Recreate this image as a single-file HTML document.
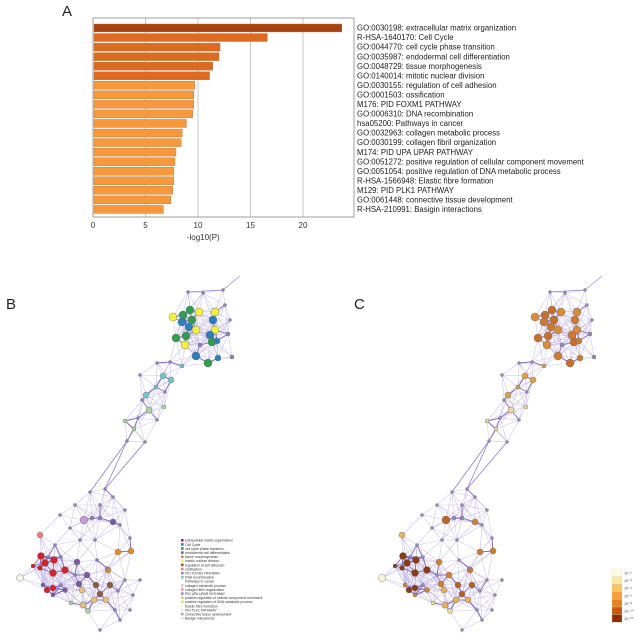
<!DOCTYPE html>
<html><head><meta charset="utf-8"><style>
body{margin:0;background:#fff;width:638px;height:636px;overflow:hidden;font-family:"Liberation Sans",sans-serif}
svg{display:block}
</style></head><body>
<svg id="fig" width="638" height="636" viewBox="0 0 638 636">
<text x="62" y="16" font-size="15" fill="#222">A</text>
<text x="6" y="309" font-size="15" fill="#222">B</text>
<text x="354" y="309" font-size="15" fill="#222">C</text>
<g id="barchart"></g>
<g id="netB"></g>
<g id="netC"></g>
<g id="legB"></g>
<g id="legC"></g>
</svg>
<script>
const terms=["GO:0030198: extracellular matrix organization","R-HSA-1640170: Cell Cycle","GO:0044770: cell cycle phase transition","GO:0035987: endodermal cell differentiation","GO:0048729: tissue morphogenesis","GO:0140014: mitotic nuclear division","GO:0030155: regulation of cell adhesion","GO:0001503: ossification","M176: PID FOXM1 PATHWAY","GO:0006310: DNA recombination","hsa05200: Pathways in cancer","GO:0032963: collagen metabolic process","GO:0030199: collagen fibril organization","M174: PID UPA UPAR PATHWAY","GO:0051272: positive regulation of cellular component movement","GO:0051054: positive regulation of DNA metabolic process","R-HSA-1566948: Elastic fibre formation","M129: PID PLK1 PATHWAY","GO:0061448: connective tissue development","R-HSA-210991: Basigin interactions"];
const values=[23.7,16.6,12.1,12.0,11.4,11.1,9.7,9.6,9.6,9.5,8.9,8.5,8.4,7.9,7.8,7.7,7.7,7.6,7.4,6.7];
const xticks=[0,5,10,15,20];
const NS="http://www.w3.org/2000/svg";
function mk(tag,attrs,parent){const e=document.createElementNS(NS,tag);for(const k in attrs)e.setAttribute(k,attrs[k]);parent.appendChild(e);return e;}
const X0=93,PX=10.5,Y0=24,STEP=9.55,PT=18,PB=217,PR=354;
const xs=v=>X0+v*PX;
const bc=document.getElementById('barchart');
xticks.forEach(t=>{if(t>0){const g=mk('line',{x1:xs(t),x2:xs(t),y1:PT,y2:PB,stroke:'#c8c8c8','stroke-width':1},bc);}
 const tx=mk('text',{x:xs(t),y:PB+11,'font-size':8,'text-anchor':'middle',fill:'#333'},bc);tx.textContent=t;});
const fr=mk('rect',{x:X0,y:PT,width:PR-X0,height:PB-PT,fill:'none',stroke:'#888','stroke-width':0.8},bc);

values.forEach((v,i)=>{const col=i==0?'#a8420f':(i<6?'#dd6a1e':'#f7993a');
 const r=mk('rect',{x:X0+1,y:Y0+i*STEP,width:xs(v)-X0-1,height:STEP-1.6,fill:col,stroke:'#b0703f','stroke-width':0.4},bc);
 
 const t=mk('text',{x:357,y:Y0+i*STEP+6.6,'font-size':7.8,fill:'#222'},bc);t.textContent=terms[i];
 });
const xl=mk('text',{x:xs(10.5),y:240,'font-size':8,'text-anchor':'middle',fill:'#333'},bc);xl.textContent='-log10(P)';


const nodes=[[173,317,4,'y'],[183,315,4,'g'],[190,310,4,'g'],[199,312,4,'y'],[192,320,4,'g'],[182,322,4,'b'],[189,327,4,'b'],[196,330,4,'y'],[176,338,4,'g'],[186,336,4,'g'],[185,345,4,'y'],[215,312,4,'y'],[213,320,4,'b'],[215,330,4,'y'],[210,335,4,'b'],[212,342,4,'g'],[217,341,3,'b'],[196,356,4,'b'],[208,363,4,'g'],[218,358,3,'b'],[228,334,2,'s'],[232,357,2,'s'],[188,292,1.5,'s'],[203,293,1.5,'s'],[223,290,1.5,'s'],[225,305,1.5,'s'],[230,320,1.5,'s'],[200,345,2,'s'],
[182,366,2,'c'],[157,363,1.5,'s'],[140,375,1.5,'s'],[170,362,1.5,'s'],[163,376,3,'c'],[171,380,3,'c'],[156,387,2,'c'],[146,395,3,'c'],[165,392,1.5,'s'],[149,410,3,'l'],[164,407,2,'l'],[142,400,1.5,'s'],[125,421,2,'l'],[134,429,2,'l'],[127,441,1.5,'s'],[145,442,1.5,'s'],[157,420,1.5,'s'],[138,418,1.5,'s'],
[90,492,1.5,'s'],[105,489,1.5,'s'],[113,497,1.5,'s'],[75,505,1.5,'s'],[84,520,4,'v'],[92,518,2,'s'],[100,518,2,'s'],[113,522,3,'p'],[120,525,1.5,'s'],[70,528,1.5,'s'],[80,540,1.5,'s'],[130,538,1.5,'s'],[40,535,3,'o'],[55,545,1.5,'s'],[61,557,1.5,'s'],[48,557,1.5,'s'],[41,556,3.5,'r'],[45,563,3.5,'r'],[54,560,3.5,'r'],[40,568,2.5,'r'],[53,573,3.5,'r'],[65,570,3.5,'r'],[33,566,2,'r'],[77,562,3,'p'],[87,575,3,'p'],[79,584,3,'p'],[20,578,3.5,'w'],[43,585,2,'p'],[47,590,3,'r'],[53,588,3,'r'],[53,595,2,'p'],[65,590,2.5,'p'],[75,575,1.5,'s'],[97,560,1.5,'s'],[96,585,3,'n'],[100,594,3,'n'],[110,585,3,'n'],[118,591,1.5,'s'],[108,570,3,'O'],[118,552,3,'O'],[131,551,3,'O'],[107,568,1.5,'s'],[82,590,3,'t'],[83,605,3,'t'],[94,600,3,'t'],[106,600,3,'t'],[71,603,2,'l'],[88,611,2.5,'l'],[100,630,1.5,'s'],[120,620,1.5,'s'],[130,610,1.5,'s'],[125,580,1.5,'s'],[133,595,1.5,'s'],[61,585,1.5,'s'],[140,580,1.5,'s'],[115,610,1.5,'s'],[100,505,1.5,'s'],[125,510,1.5,'s'],[60,515,1.5,'s'],[95,540,1.5,'s']];
const colB={y:'#f2f23c',g:'#2f9e4e',b:'#2b7fc1',s:'#8a82b8',c:'#6fc9cc',l:'#a4d89a',v:'#c59ad8',p:'#7b5aa6',o:'#e88080',r:'#d5202c',w:'#f0f8e8',n:'#8a5a3a',O:'#e38a2a',t:'#e9c078'};
const colC={y:'#d98a3a',g:'#c8702a',b:'#cf7a2e',s:'#9a8ab8',c:'#dfa040',l:'#f0d890',v:'#c0632a',p:'#d28030',o:'#e6b45a',r:'#8c3a12',w:'#fbf5d8',n:'#b8601f',O:'#cf7a2e',t:'#e9b055'};
function drawNet(gid,dx,cols){const g=document.getElementById(gid);
 for(let i=0;i<nodes.length;i++)for(let j=i+1;j<nodes.length;j++){const a=nodes[i],b=nodes[j];const d=Math.hypot(a[0]-b[0],a[1]-b[1]);
  if(d<30){const l=mk('line',{x1:a[0]+dx,y1:a[1],x2:b[0]+dx,y2:b[1],stroke:(d<14?'#5a3bb0':'#a897dc'),'stroke-width':(d<14?1:0.6),'stroke-opacity':(d<14?0.75:0.55)},g);
  }}
 [[42,47],[43,47],[42,46],[22,24]].forEach(e=>{const a=nodes[e[0]],b=nodes[e[1]];const l=mk('line',{x1:a[0]+dx,y1:a[1],x2:b[0]+dx,y2:b[1],stroke:'#8f7cd0','stroke-width':0.8},g);
  });
 const tl=mk('line',{x1:223+dx,y1:290,x2:240+dx,y2:276,stroke:'#9b88d6','stroke-width':0.7},g);
 nodes.forEach(n=>{const c=mk('circle',{cx:n[0]+dx,cy:n[1],r:n[2],fill:cols[n[3]],stroke:'#666','stroke-width':0.4},g);
  });}
drawNet('netB',0,colB);drawNet('netC',362,colC);

const legBCols=['#d5202c','#2b7fc1','#2f9e4e','#7b5aa6','#e38a2a','#f2f23c','#8a5a3a','#e88080','#8a82b8','#6fc9cc','#ffffff','#d0d0d0','#e0a0a0','#9a88c8','#e9c078','#f0e060','#f8f8f8','#f0e0e0','#b0a0d0','#e0e0e0'];
const lb=document.getElementById('legB');
terms.forEach((t,i)=>{const y=539+i*4.1;
 const r=mk('rect',{x:181,y:y,width:2.6,height:2.6,fill:legBCols[i]},lb);
 const tx=mk('text',{x:185,y:y+2.7,'font-size':3.4,fill:'#333'},lb);tx.textContent=t.split(': ')[1];});
const legCCols=['#fffde0','#fbe9a0','#f9c560','#f5a03a','#e8801e','#c9580f','#8c2d04'];
const legCLabels=['10\u207B\u00B2','10\u207B\u00B3','10\u207B\u2074','10\u207B\u2076','10\u207B\u2078','10\u207B\u00B9\u2070','10\u207B\u00B2\u2070'];
const lc=document.getElementById('legC');
legCCols.forEach((c,i)=>{const y=569+i*7.6;
 const r=mk('rect',{x:612,y:y,width:10,height:7.6,fill:c,stroke:'#ccc','stroke-width':0.3},lc);
 const tx=mk('text',{x:624,y:y+5.5,'font-size':4,fill:'#444'},lc);tx.textContent=legCLabels[i];});
</script>
</body></html>
